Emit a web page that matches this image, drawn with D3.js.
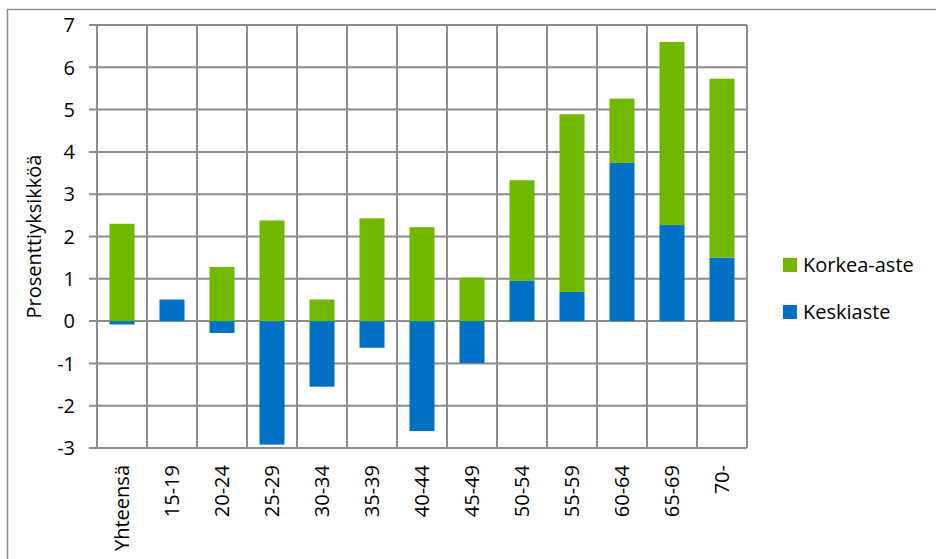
<!DOCTYPE html>
<html>
<head>
<meta charset="utf-8">
<script src="https://cdn.jsdelivr.net/npm/d3@7"></script>
<style>
  body { margin: 0; background: #fff; }
  svg text { font-family: "Open Sans", "Noto Sans", sans-serif; fill: #000; }
</style>
</head>
<body>
<div class="chart"></div>
<script>
// data
const categories = ["Yhteensä", "15-19", "20-24", "25-29", "30-34", "35-39", "40-44",
                    "45-49", "50-54", "55-59", "60-64", "65-69", "70-"];
const keskiaste = [-0.08, 0.51, -0.28, -2.92, -1.55, -0.63, -2.60, -0.99, 0.95, 0.69, 3.74, 2.27, 1.50];
const korkeaAste = [2.30, 0, 1.28, 2.38, 0.51, 2.43, 2.22, 1.03, 2.38, 4.20, 1.52, 4.33, 4.23];
const yTicks = [-3, -2, -1, 0, 1, 2, 3, 4, 5, 6, 7];
const seriesNames = ["Korkea-aste", "Keskiaste"];
const colors = {"Korkea-aste": "#70b800", "Keskiaste": "#0070c5"};

const W = 936, H = 559;
const plotLeft = 97, plotRight = 747, plotTop = 25, plotBottom = 448;
const fs = 20;

var svg = d3.select(".chart")
            .append("svg")
            .attr("width", W)
            .attr("height", H);

// outer frame
svg.append("rect")
   .attr("x", 7.5).attr("y", 9.5)
   .attr("width", W).attr("height", H)
   .attr("fill", "none")
   .attr("stroke", "#8c8c8c")
   .attr("stroke-width", 1.5);

var x = d3.scaleBand().domain(categories).range([plotLeft, plotRight]).paddingInner(0).paddingOuter(0);
var y = d3.scaleLinear().domain([-3, 7]).range([plotBottom, plotTop]);

const gridColor = "#8c8c8c";

// horizontal gridlines + tick marks
svg.append("g").selectAll("line")
   .data(yTicks)
   .join("line")
   .attr("x1", plotLeft - 8).attr("x2", plotRight)
   .attr("y1", d => y(d)).attr("y2", d => y(d))
   .attr("stroke", gridColor).attr("stroke-width", 2);

// vertical gridlines at category borders
const borders = categories.map(c => x(c)).concat([plotRight]);
svg.append("g").selectAll("line")
   .data(borders)
   .join("line")
   .attr("x1", d => d).attr("x2", d => d)
   .attr("y1", plotTop).attr("y2", plotBottom)
   .attr("stroke", gridColor).attr("stroke-width", 2);

// stacked bars (Excel style: positives and negatives stacked separately)
const bw = x.bandwidth() * 0.5;
categories.forEach((c, i) => {
  let pos = 0, neg = 0;
  [["Keskiaste", keskiaste[i]], ["Korkea-aste", korkeaAste[i]]].forEach(([name, v]) => {
    if (v === 0) return;
    let y0, y1;
    if (v > 0) { y0 = pos; y1 = pos + v; pos = y1; }
    else { y0 = neg; y1 = neg + v; neg = y1; }
    svg.append("rect")
       .attr("x", x(c) + (x.bandwidth() - bw) / 2)
       .attr("width", bw)
       .attr("y", y(Math.max(y0, y1)))
       .attr("height", Math.abs(y(y0) - y(y1)))
       .attr("fill", colors[name]);
  });
});

// y tick labels
svg.append("g").selectAll("text")
   .data(yTicks)
   .join("text")
   .attr("x", 75)
   .attr("y", d => y(d))
   .attr("dy", "0.36em")
   .attr("text-anchor", "end")
   .attr("font-size", fs)
   .text(d => d);

// x labels, rotated
svg.append("g").selectAll("text")
   .data(categories)
   .join("text")
   .attr("transform", d => `translate(${x(d) + x.bandwidth() / 2},465) rotate(-90)`)
   .attr("dy", "0.36em")
   .attr("text-anchor", "end")
   .attr("font-size", fs)
   .text(d => d);

// y axis title
svg.append("text")
   .attr("transform", `translate(34,${(plotTop + plotBottom) / 2}) rotate(-90)`)
   .attr("dy", "0.36em")
   .attr("text-anchor", "middle")
   .attr("font-size", fs)
   .text("Prosenttiyksikköä");

// legend
const legend = svg.append("g").selectAll("g")
   .data(seriesNames)
   .join("g")
   .attr("transform", (d, i) => `translate(783,${258 + i * 47})`);
legend.append("rect")
   .attr("width", 14).attr("height", 14)
   .attr("fill", d => colors[d]);
legend.append("text")
   .attr("x", 20).attr("y", 7)
   .attr("dy", "0.36em")
   .attr("font-size", fs)
   .text(d => d);
</script>
</body>
</html>
